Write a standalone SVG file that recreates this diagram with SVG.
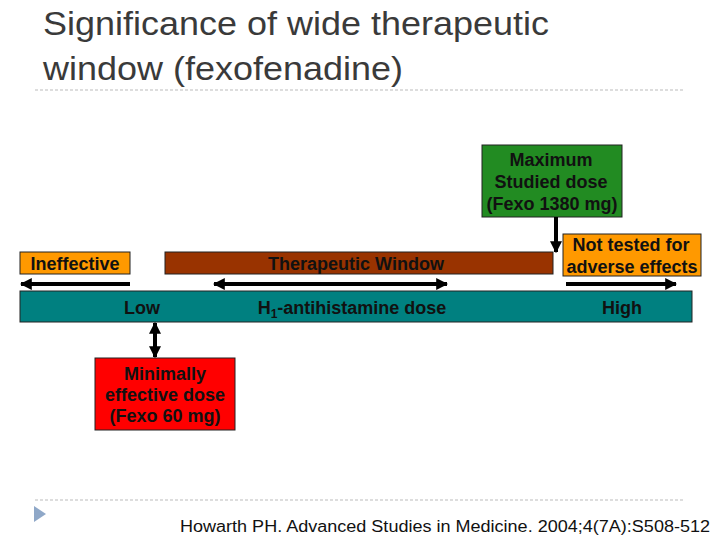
<svg xmlns="http://www.w3.org/2000/svg" width="720" height="540" viewBox="0 0 720 540">
<defs>
<style>
.t{font-family:"Liberation Sans",Arial,sans-serif;font-weight:bold;font-size:18px;fill:#111;text-anchor:middle}
.box{stroke:#222;stroke-width:1}
.ar{stroke:#000;stroke-width:4;fill:none}
.sep{stroke:#bbb;stroke-width:1;stroke-dasharray:3,2}
.ttl{font-family:"Liberation Sans",Arial,sans-serif;font-size:33px;fill:#3a3a3a}
</style>
<marker id="ah" viewBox="0 0 10 10" refX="9" refY="5" markerWidth="3" markerHeight="3" orient="auto-start-reverse">
<path d="M0,0 L10,5 L0,10 z" fill="#000"/>
</marker>
</defs>
<rect width="720" height="540" fill="#fff"/>
<g id="title">
<text class="ttl" x="43" y="35" textLength="506" lengthAdjust="spacingAndGlyphs">Significance of wide therapeutic</text>
<text class="ttl" x="43" y="80" textLength="360" lengthAdjust="spacingAndGlyphs">window (fexofenadine)</text>
</g>
<line class="sep" x1="35" y1="90" x2="685" y2="90"/>
<line class="sep" x1="35" y1="500" x2="685" y2="500"/>
<g id="bar">
<rect class="box" x="20" y="291" width="672" height="31" fill="#008080"/>
<text class="t" x="142" y="314">Low</text>
<text class="t" x="352" y="314">H<tspan font-size="12" dy="4">1</tspan><tspan dy="-4">-antihistamine dose</tspan></text>
<text class="t" x="622" y="314">High</text>
</g>
<g id="ineffective">
<rect class="box" x="20" y="252" width="110" height="22" fill="#FF9900"/>
<text class="t" x="75" y="270">Ineffective</text>
</g>
<g id="therapeutic">
<rect class="box" x="165" y="252" width="388" height="22" fill="#993300"/>
<text class="t" x="356" y="270">Therapeutic Window</text>
</g>
<g id="maxdose">
<rect class="box" x="482" y="145" width="140" height="72" fill="#228B22"/>
<text class="t" x="551" y="166">Maximum</text>
<text class="t" x="551" y="188">Studied dose</text>
<text class="t" x="552" y="210">(Fexo 1380 mg)</text>
</g>
<g id="nottested">
<rect class="box" x="563" y="234" width="138" height="42" fill="#FF9900"/>
<text class="t" x="631" y="251">Not tested for</text>
<text class="t" x="632" y="273">adverse effects</text>
</g>
<g id="mindose">
<rect class="box" x="95" y="358" width="140" height="72" fill="#FF0000"/>
<text class="t" x="165" y="380">Minimally</text>
<text class="t" x="165" y="401">effective dose</text>
<text class="t" x="165" y="422">(Fexo 60 mg)</text>
</g>
<g id="connectors">
<line class="ar" x1="130" y1="284" x2="21" y2="284" marker-end="url(#ah)"/>
<line class="ar" x1="214" y1="284" x2="447" y2="284" marker-start="url(#ah)" marker-end="url(#ah)"/>
<line class="ar" x1="566" y1="284" x2="676" y2="284" marker-end="url(#ah)"/>
<line class="ar" x1="556" y1="217" x2="556" y2="252" marker-end="url(#ah)"/>
<line class="ar" x1="155" y1="323" x2="155" y2="357" marker-start="url(#ah)" marker-end="url(#ah)"/>
</g>
<g id="footer">
<path d="M34,506 L46,514 L34,522 z" fill="#8FA8C8"/>
<text x="180" y="532" font-family="'Liberation Sans',Arial,sans-serif" font-size="16" fill="#111" textLength="530" lengthAdjust="spacingAndGlyphs">Howarth PH. Advanced Studies in Medicine. 2004;4(7A):S508-512</text>
</g>
</svg>
